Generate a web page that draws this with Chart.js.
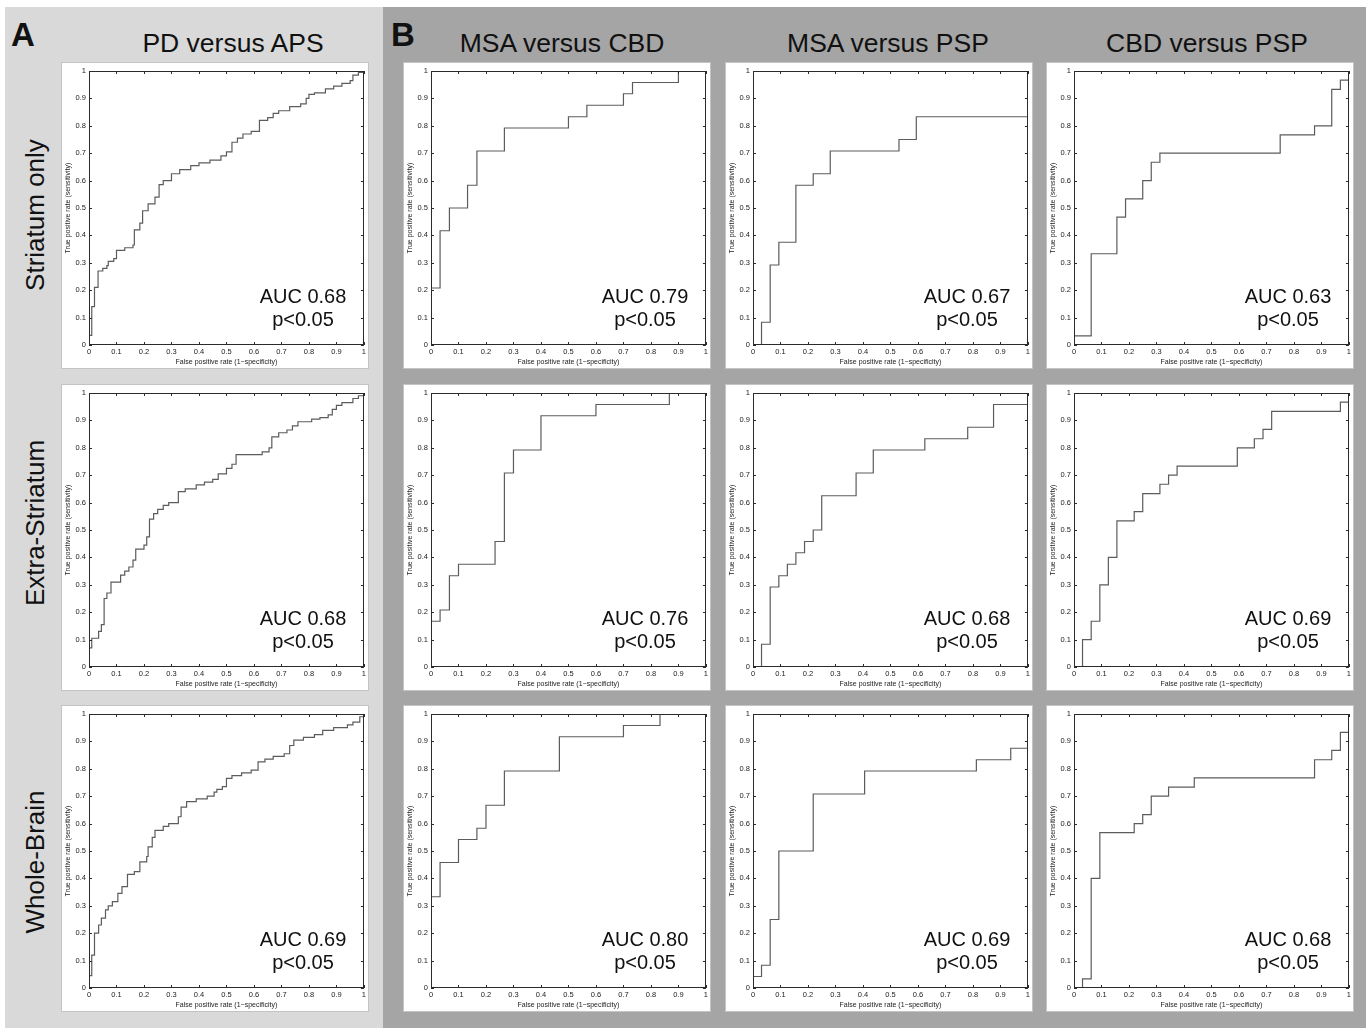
<!DOCTYPE html>
<html>
<head>
<meta charset="utf-8">
<script src="https://cdn.jsdelivr.net/npm/chart.js@4.4.0/dist/chart.umd.min.js"></script>
<style>
  body { margin: 0; width: 1366px; height: 1028px; background: #fff; position: relative; overflow: hidden;
         font-family: "Liberation Sans", Arial, sans-serif; }
  .bgA { position: absolute; left: 5px; top: 7px; width: 378px; height: 1021px; background: #d9d9d9; }
  .bgB { position: absolute; left: 383px; top: 7px; width: 983px; height: 1021px; background: #a5a5a5; }
  .panel { position: absolute; width: 306px; height: 305px; background: #fff; outline: 1px solid #c4c4c4; }
  .panel canvas { position: absolute; left: 0; top: 0; }
  .auc { position: absolute; width: 140px; text-align: center; font-size: 20px; line-height: 23px; color: #111; }
  .head { position: absolute; width: 300px; text-align: center; font-size: 26.5px; line-height: 30px; color: #111; }
  .row { position: absolute; width: 300px; text-align: center; font-size: 26px; line-height: 30px; color: #111;
         transform: rotate(-90deg); }
  .letter { position: absolute; font-size: 33px; font-weight: bold; color: #111; line-height: 33px; }
</style>
</head>
<body>
<div class="bgA"></div>
<div class="bgB"></div>
<div class="letter" style="left:11px; top:18px;">A</div>
<div class="letter" style="left:391px; top:18px;">B</div>
<div id="figure"></div>
<script>
// column headers and row labels
const columnTitles = ["PD versus APS", "MSA versus CBD", "MSA versus PSP", "CBD versus PSP"];
const rowTitles = ["Striatum only", "Extra-Striatum", "Whole-Brain"];
const tickValues = [0, 0.1, 0.2, 0.3, 0.4, 0.5, 0.6, 0.7, 0.8, 0.9, 1];

// ROC curves: false positive rate (x) / true positive rate (y) at each step
const pdApsStriatumX = [0, 0, 0.01, 0.02, 0.033, 0.05, 0.065, 0.07, 0.09, 0.1, 0.13, 0.16, 0.165, 0.185, 0.195, 0.215, 0.24, 0.255, 0.27, 0.3, 0.33, 0.37, 0.4, 0.44, 0.48, 0.5, 0.52, 0.54, 0.56, 0.59, 0.62, 0.65, 0.67, 0.69, 0.73, 0.77, 0.79, 0.8, 0.82, 0.86, 0.89, 0.92, 0.95, 0.96, 0.98, 1];
const pdApsStriatumY = [0, 0.035, 0.14, 0.21, 0.27, 0.28, 0.29, 0.305, 0.315, 0.345, 0.355, 0.365, 0.42, 0.445, 0.49, 0.515, 0.54, 0.585, 0.6, 0.625, 0.64, 0.655, 0.665, 0.675, 0.69, 0.705, 0.74, 0.755, 0.77, 0.78, 0.82, 0.83, 0.845, 0.855, 0.87, 0.88, 0.9, 0.915, 0.92, 0.935, 0.945, 0.955, 0.965, 0.985, 0.995, 1];

const msaCbdStriatumX = [0, 0, 0.033, 0.067, 0.133, 0.167, 0.267, 0.5, 0.567, 0.7, 0.733, 0.9, 1];
const msaCbdStriatumY = [0, 0.208, 0.417, 0.5, 0.583, 0.708, 0.792, 0.833, 0.875, 0.917, 0.958, 1, 1];

const msaPspStriatumX = [0, 0.031, 0.0625, 0.094, 0.156, 0.219, 0.281, 0.531, 0.594, 1];
const msaPspStriatumY = [0, 0.083, 0.292, 0.375, 0.583, 0.625, 0.708, 0.75, 0.833, 0.833];

const cbdPspStriatumX = [0, 0, 0.0625, 0.156, 0.1875, 0.25, 0.281, 0.3125, 0.75, 0.875, 0.9375, 0.969, 1];
const cbdPspStriatumY = [0, 0.033, 0.333, 0.467, 0.533, 0.6, 0.667, 0.7, 0.767, 0.8, 0.933, 0.967, 0.967];

const pdApsExtraX = [0, 0, 0.01, 0.035, 0.045, 0.055, 0.065, 0.08, 0.115, 0.13, 0.145, 0.16, 0.17, 0.2, 0.21, 0.22, 0.235, 0.25, 0.27, 0.29, 0.325, 0.35, 0.39, 0.42, 0.45, 0.47, 0.5, 0.52, 0.535, 0.63, 0.655, 0.665, 0.69, 0.72, 0.74, 0.76, 0.81, 0.84, 0.87, 0.885, 0.9, 0.92, 0.96, 0.98, 1];
const pdApsExtraY = [0, 0.07, 0.105, 0.13, 0.155, 0.25, 0.27, 0.31, 0.335, 0.35, 0.365, 0.39, 0.43, 0.445, 0.475, 0.54, 0.56, 0.575, 0.59, 0.6, 0.64, 0.65, 0.665, 0.675, 0.685, 0.705, 0.725, 0.74, 0.775, 0.785, 0.8, 0.84, 0.855, 0.865, 0.88, 0.895, 0.905, 0.91, 0.92, 0.94, 0.955, 0.965, 0.98, 0.99, 1];

const msaCbdExtraX = [0, 0, 0.033, 0.067, 0.1, 0.233, 0.267, 0.3, 0.4, 0.6, 0.867, 1];
const msaCbdExtraY = [0, 0.167, 0.208, 0.333, 0.375, 0.458, 0.708, 0.792, 0.917, 0.958, 1, 1];

const msaPspExtraX = [0, 0.031, 0.0625, 0.094, 0.125, 0.156, 0.1875, 0.219, 0.25, 0.375, 0.4375, 0.625, 0.781, 0.875, 1];
const msaPspExtraY = [0, 0.083, 0.292, 0.333, 0.375, 0.417, 0.458, 0.5, 0.625, 0.708, 0.792, 0.833, 0.875, 0.958, 0.958];

const cbdPspExtraX = [0, 0.031, 0.0625, 0.094, 0.125, 0.156, 0.219, 0.25, 0.3125, 0.344, 0.375, 0.594, 0.656, 0.6875, 0.719, 0.969, 1];
const cbdPspExtraY = [0, 0.1, 0.167, 0.3, 0.4, 0.533, 0.567, 0.633, 0.667, 0.7, 0.733, 0.8, 0.833, 0.867, 0.933, 0.967, 0.967];

const pdApsWholeX = [0, 0, 0.01, 0.02, 0.035, 0.045, 0.06, 0.07, 0.085, 0.105, 0.12, 0.14, 0.165, 0.185, 0.21, 0.215, 0.23, 0.24, 0.27, 0.29, 0.325, 0.335, 0.355, 0.39, 0.43, 0.455, 0.465, 0.485, 0.5, 0.52, 0.555, 0.59, 0.615, 0.64, 0.67, 0.71, 0.73, 0.745, 0.78, 0.82, 0.85, 0.89, 0.94, 0.96, 0.985, 1];
const pdApsWholeY = [0, 0.045, 0.12, 0.2, 0.23, 0.255, 0.285, 0.3, 0.315, 0.345, 0.37, 0.415, 0.425, 0.46, 0.48, 0.515, 0.55, 0.575, 0.59, 0.6, 0.625, 0.66, 0.68, 0.69, 0.7, 0.715, 0.725, 0.735, 0.765, 0.775, 0.785, 0.795, 0.825, 0.835, 0.845, 0.855, 0.885, 0.905, 0.915, 0.925, 0.94, 0.95, 0.96, 0.97, 0.99, 1];

const msaCbdWholeX = [0, 0, 0.033, 0.1, 0.167, 0.2, 0.267, 0.467, 0.7, 0.833, 1];
const msaCbdWholeY = [0, 0.333, 0.458, 0.542, 0.583, 0.667, 0.792, 0.917, 0.958, 1, 1];

const msaPspWholeX = [0, 0, 0.031, 0.0625, 0.094, 0.219, 0.406, 0.8125, 0.9375, 1];
const msaPspWholeY = [0, 0.042, 0.083, 0.25, 0.5, 0.708, 0.792, 0.833, 0.875, 0.875];

const cbdPspWholeX = [0, 0.031, 0.0625, 0.094, 0.219, 0.25, 0.281, 0.344, 0.4375, 0.875, 0.9375, 0.969, 1];
const cbdPspWholeY = [0, 0.033, 0.4, 0.567, 0.6, 0.633, 0.7, 0.733, 0.767, 0.833, 0.867, 0.933, 0.933];

const aucLabels = [
  ["0.68", "0.79", "0.67", "0.63"],
  ["0.68", "0.76", "0.68", "0.69"],
  ["0.69", "0.80", "0.69", "0.68"],
];

const curves = [
  [[pdApsStriatumX, pdApsStriatumY], [msaCbdStriatumX, msaCbdStriatumY], [msaPspStriatumX, msaPspStriatumY], [cbdPspStriatumX, cbdPspStriatumY]],
  [[pdApsExtraX, pdApsExtraY], [msaCbdExtraX, msaCbdExtraY], [msaPspExtraX, msaPspExtraY], [cbdPspExtraX, cbdPspExtraY]],
  [[pdApsWholeX, pdApsWholeY], [msaCbdWholeX, msaCbdWholeY], [msaPspWholeX, msaPspWholeY], [cbdPspWholeX, cbdPspWholeY]],
];

// placement of the panels on the page
const colLeft = [62, 404, 726, 1047];
const rowTop = [63, 385, 706];
const headCenter = [233, 562, 888, 1207];
const rowCenter = [215, 523, 862];

const fig = document.getElementById("figure");

columnTitles.forEach((t, i) => {
  const d = document.createElement("div");
  d.className = "head";
  d.textContent = t;
  d.style.left = headCenter[i] - 150 + "px";
  d.style.top = 43 - 15 + "px";
  fig.appendChild(d);
});

rowTitles.forEach((t, i) => {
  const d = document.createElement("div");
  d.className = "row";
  d.textContent = t;
  d.style.left = 35 - 150 + "px";
  d.style.top = rowCenter[i] - 15 + "px";
  fig.appendChild(d);
});

// box around the axes plus small inward ticks, matlab style
const boxPlugin = {
  id: "matlabBox",
  afterDatasetsDraw(chart) {
    const { ctx, chartArea: a, scales } = chart;
    ctx.save();
    ctx.strokeStyle = "#2b2b2b";
    ctx.lineWidth = 1;
    ctx.strokeRect(Math.round(a.left) + 0.5, Math.round(a.top) + 0.5, Math.round(a.width) - 1, Math.round(a.height) - 1);
    ctx.beginPath();
    tickValues.forEach((v) => {
      const px = Math.round(scales.x.getPixelForValue(v)) + 0.5;
      ctx.moveTo(px, a.bottom); ctx.lineTo(px, a.bottom - 3);
      ctx.moveTo(px, a.top); ctx.lineTo(px, a.top + 3);
      const py = Math.round(scales.y.getPixelForValue(v)) + 0.5;
      ctx.moveTo(a.left, py); ctx.lineTo(a.left + 3, py);
      ctx.moveTo(a.right, py); ctx.lineTo(a.right - 3, py);
    });
    ctx.stroke();
    ctx.restore();
  },
};

const tickFont = { family: "'Liberation Sans', Arial, sans-serif", size: 7.5 };
const titleFont = { family: "'Liberation Sans', Arial, sans-serif", size: 7 };

function makeChart(canvas, xs, ys) {
  new Chart(canvas.getContext("2d"), {
    type: "line",
    data: {
      datasets: [{
        data: xs.map((x, i) => ({ x: x, y: ys[i] })),
        borderColor: "#5c5c5c",
        borderWidth: 1.2,
        pointRadius: 0,
        stepped: "before",
        fill: false,
      }],
    },
    options: {
      responsive: false,
      animation: false,
      events: [],
      layout: { padding: { top: 8, right: 4, left: 0, bottom: 0 } },
      plugins: { legend: { display: false }, tooltip: { enabled: false } },
      scales: {
        x: {
          type: "linear", min: 0, max: 1,
          grid: { display: false, drawTicks: false },
          border: { display: false },
          ticks: { stepSize: 0.1, font: tickFont, color: "#222", padding: 2, maxRotation: 0,
                   callback: (v) => String(+v.toFixed(1)) },
          title: { display: true, text: "False positive rate (1\u2212specificity)", font: titleFont, color: "#222",
                   padding: { top: 0, bottom: 2 } },
          afterFit: (s) => { s.height = 23; },
        },
        y: {
          type: "linear", min: 0, max: 1,
          grid: { display: false, drawTicks: false },
          border: { display: false },
          ticks: { stepSize: 0.1, font: tickFont, color: "#222", padding: 3,
                   callback: (v) => String(+v.toFixed(1)) },
          title: { display: true, text: "True positive rate (sensitivity)", font: titleFont, color: "#222",
                   padding: { top: 2, bottom: 0 } },
          afterFit: (s) => { s.width = 27; },
        },
      },
    },
    plugins: [boxPlugin],
  });
}

rowTop.forEach((top, r) => {
  colLeft.forEach((left, c) => {
    const p = document.createElement("div");
    p.className = "panel";
    p.style.left = left + "px";
    p.style.top = top + "px";
    const cv = document.createElement("canvas");
    cv.width = 306;
    cv.height = 305;
    p.appendChild(cv);

    const t = document.createElement("div");
    t.className = "auc";
    t.innerHTML = "AUC " + aucLabels[r][c] + "<br>p&lt;0.05";
    t.style.left = 241 - 70 + "px";
    t.style.top = 233 - 11.5 + "px";
    p.appendChild(t);

    fig.appendChild(p);
    makeChart(cv, curves[r][c][0], curves[r][c][1]);
  });
});
</script>
</body>
</html>
